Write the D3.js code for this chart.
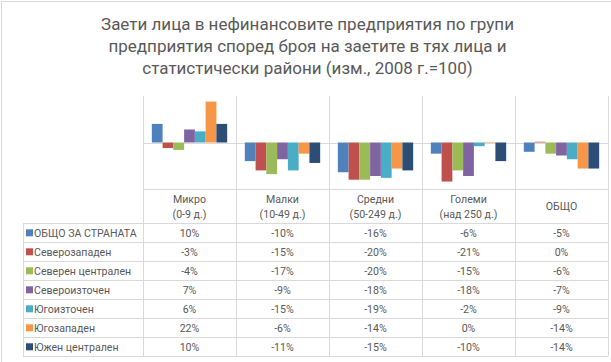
<!DOCTYPE html>
<html>
<head>
<meta charset="utf-8">
<script src="https://cdn.jsdelivr.net/npm/d3@7"></script>
<style>
body{margin:0;background:#fff;}
text{font-family:Roboto,"Open Sans",sans-serif;fill:#595959;}
</style>
</head>
<body>
<div id="chart"></div>
<script>
var W = 611, H = 362;

// categories (table header lines)
var categories = [["Микро","(0-9 д.)"],["Малки","(10-49 д.)"],["Средни","(50-249 д.)"],["Големи","(над 250 д.)"],["ОБЩО"]];
var regions = ["ОБЩО ЗА СТРАНАТА","Северозападен","Северен централен","Североизточен","Югоизточен","Югозападен","Южен централен"];
var colors = ["#4F81BD","#C0504D","#9BBB59","#8064A2","#4BACC6","#F79646","#2C4D75"];

// values, change vs 2008
var obshtoStrana   = [0.10,-0.10,-0.16,-0.06,-0.05];
var severozapaden  = [-0.03,-0.15,-0.20,-0.21,0.004];
var severenCentr   = [-0.04,-0.17,-0.20,-0.15,-0.06];
var severoiztochen = [0.07,-0.09,-0.18,-0.18,-0.07];
var iugoiztochen   = [0.06,-0.15,-0.19,-0.02,-0.09];
var iugozapaden    = [0.22,-0.06,-0.14,0.003,-0.14];
var iuzhenCentr    = [0.10,-0.11,-0.15,-0.10,-0.14];
var series = [obshtoStrana,severozapaden,severenCentr,severoiztochen,iugoiztochen,iugozapaden,iuzhenCentr];

var plotTop = 96, plotBottom = 189, tableTop = 223.3, tableBottom = 356.3;
var plotLeft = 143, plotRight = 608, legendLeft = 22.7;
var grid = "#d9d9d9";
var fs = "10.6px";
var fmt = function(v){ return Math.round(v*100) + "%"; };

var svg = d3.select("#chart").append("svg")
	.attr("width", W)
	.attr("height", H);

svg.append("rect")
	.attr("x", 1.5).attr("y", 1.5)
	.attr("width", W+20).attr("height", H+20)
	.attr("fill", "#fff")
	.attr("stroke", grid);

// title
var title = ["Заети лица в нефинансовите предприятия по групи",
	"предприятия според броя на заетите в тях лица и",
	"статистически райони (изм., 2008 г.=100)"];
svg.selectAll(".title")
	.data(title).enter()
	.append("text")
	.attr("class","title")
	.attr("x", 307.5)
	.attr("y", function(d,i){ return 29.5 + i*22.4; })
	.attr("text-anchor","middle")
	.style("font-size","17px")
	.text(function(d){ return d; });

var x = d3.scaleBand().domain(d3.range(categories.length)).range([plotLeft, plotRight]);
var xs = d3.scaleBand().domain(d3.range(regions.length)).range([0, x.bandwidth()]).paddingOuter(0.82);
var y = d3.scaleLinear().domain([-0.25,0.25]).range([plotBottom, plotTop]);
var row = d3.scaleBand().domain(d3.range(regions.length)).range([tableTop, tableBottom]);

// vertical column lines
var bounds = x.domain().map(function(i){ return x(i); }).concat([plotRight]);
svg.selectAll(".vline")
	.data(bounds).enter()
	.append("line")
	.attr("x1", function(d){ return Math.round(d)+0.5; })
	.attr("x2", function(d){ return Math.round(d)+0.5; })
	.attr("y1", plotTop).attr("y2", tableBottom)
	.attr("stroke", grid);

// zero line + table top
svg.append("line")
	.attr("x1", plotLeft).attr("x2", plotRight)
	.attr("y1", Math.round(y(0))+0.5).attr("y2", Math.round(y(0))+0.5)
	.attr("stroke", grid);
svg.append("line")
	.attr("x1", plotLeft).attr("x2", plotRight)
	.attr("y1", plotBottom+0.5).attr("y2", plotBottom+0.5)
	.attr("stroke", grid);

// table row lines
var rowLines = regions.map(function(d,i){ return row(i); }).concat([tableBottom]);
svg.selectAll(".hline")
	.data(rowLines).enter()
	.append("line")
	.attr("x1", legendLeft).attr("x2", plotRight)
	.attr("y1", function(d){ return Math.round(d)+0.5; })
	.attr("y2", function(d){ return Math.round(d)+0.5; })
	.attr("stroke", grid);
svg.append("line")
	.attr("x1", Math.round(legendLeft)+0.5).attr("x2", Math.round(legendLeft)+0.5)
	.attr("y1", tableTop).attr("y2", tableBottom)
	.attr("stroke", grid);

// bars
var groups = svg.selectAll(".series")
	.data(series).enter()
	.append("g")
	.attr("fill", function(d,i){ return colors[i]; });

groups.each(function(vals, si){
	d3.select(this).selectAll("rect")
		.data(vals).enter()
		.append("rect")
		.attr("x", function(d,ci){ return x(ci) + xs(si); })
		.attr("width", xs.bandwidth())
		.attr("y", function(d){ return y(Math.max(0,d)); })
		.attr("height", function(d){ return Math.abs(y(d) - y(0)); });
});

// header labels
categories.forEach(function(lines, ci){
	var cx = x(ci) + x.bandwidth()/2;
	var y0 = lines.length == 1 ? 210 : 202.5;
	lines.forEach(function(t, li){
		svg.append("text")
			.attr("x", cx)
			.attr("y", y0 + li*15)
			.attr("text-anchor","middle")
			.style("font-size",fs)
			.text(t);
	});
});

// legend keys + names
regions.forEach(function(name, ri){
	var cy = row(ri) + row.bandwidth()/2;
	svg.append("rect")
		.attr("x", 26).attr("y", cy-3.5)
		.attr("width", 7).attr("height", 7)
		.attr("fill", colors[ri]);
	svg.append("text")
		.attr("x", 34)
		.attr("y", cy+4)
		.style("font-size",fs)
		.text(name);
	series[ri].forEach(function(v, ci){
		svg.append("text")
			.attr("x", x(ci) + x.bandwidth()/2)
			.attr("y", cy+4)
			.attr("text-anchor","middle")
			.style("font-size",fs)
			.text(fmt(v));
	});
});
</script>
</body>
</html>
